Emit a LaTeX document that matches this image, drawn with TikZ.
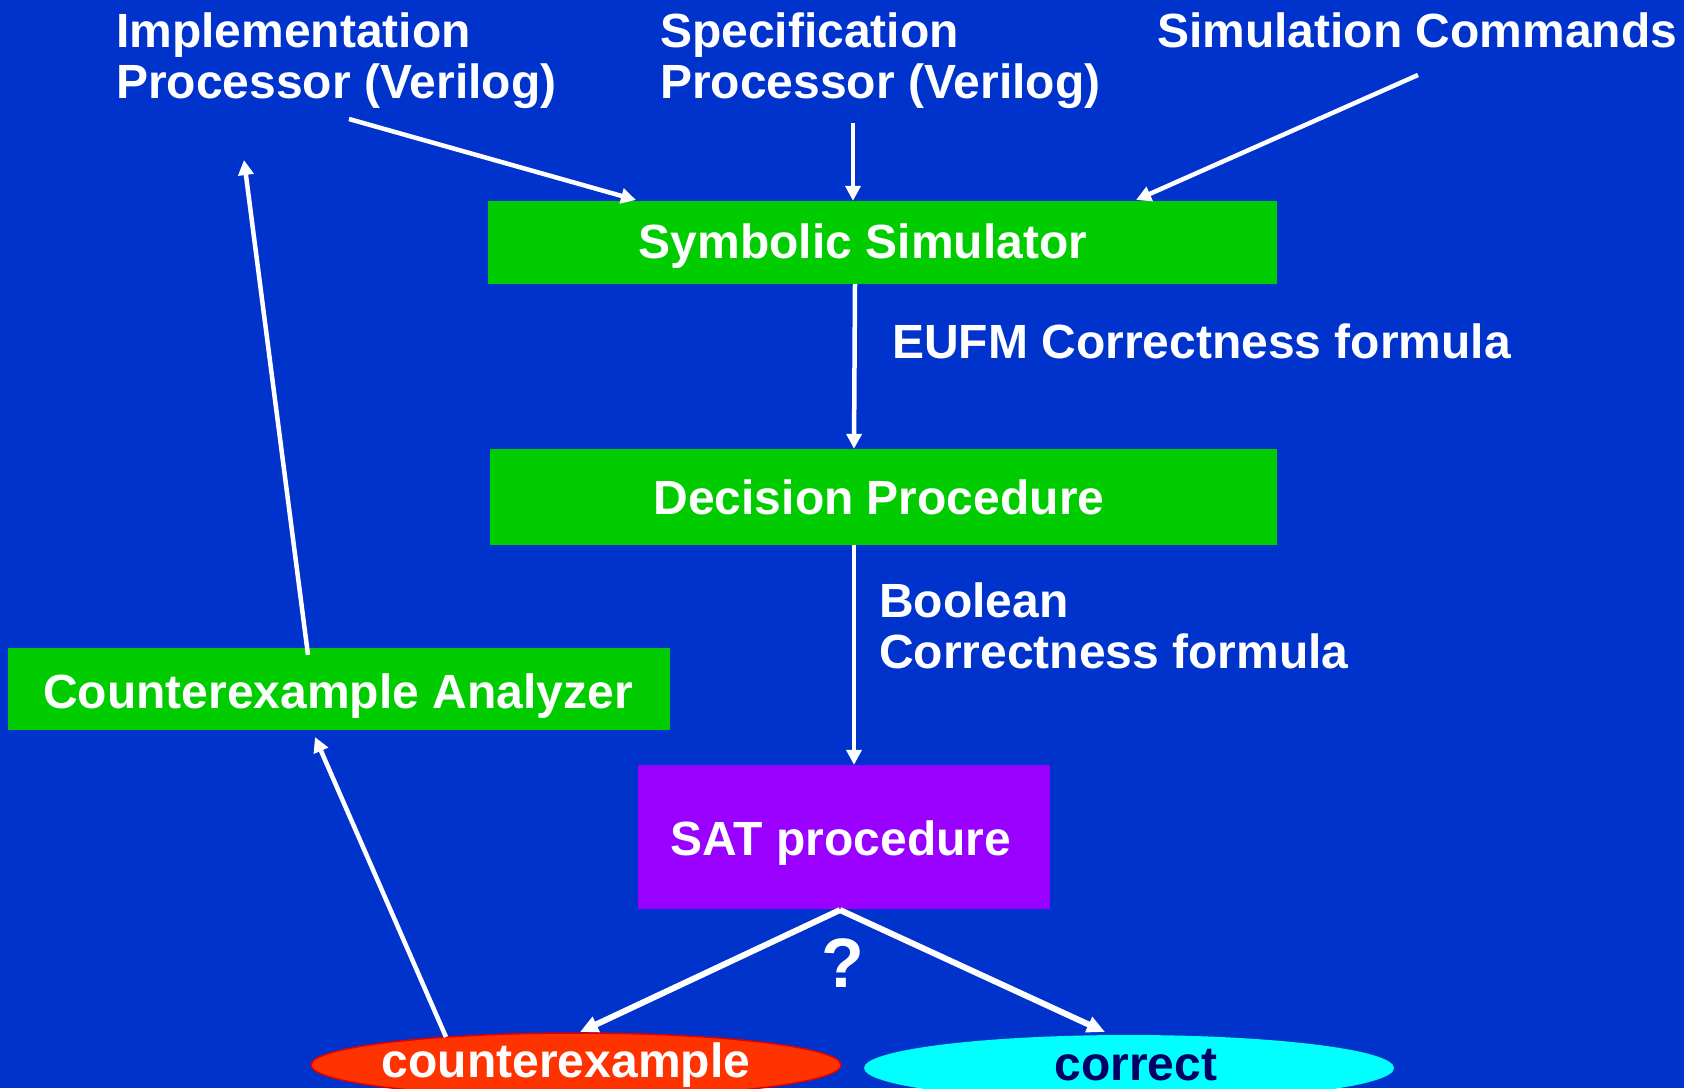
\documentclass[tikz,border=0pt]{standalone}
\usepackage{fontspec}
\setmainfont{Liberation Sans}
\usetikzlibrary{arrows.meta,shapes.geometric}
\definecolor{bg}{HTML}{0033CC}
\definecolor{boxgreen}{HTML}{00CC00}
\definecolor{satpurple}{HTML}{9900FF}
\definecolor{cered}{HTML}{FF3300}
\definecolor{ceborder}{HTML}{E00000}
\definecolor{corrcyan}{HTML}{00FFFF}
\definecolor{navytext}{HTML}{000066}
\begin{document}
\begin{tikzpicture}[x=1pt,y=-1pt,
  bigfont/.style={font=\fontsize{48}{52}\selectfont\bfseries},
  lbl/.style={bigfont,text=white,inner sep=0pt,anchor=base west},
  boxlbl/.style={bigfont,text=white,inner sep=0pt,anchor=base},
  greenbox/.style={fill=boxgreen,draw=none,inner sep=0pt},
  arr/.style={draw=white,line width=4.5pt,-{Triangle[width=15pt,length=15pt]}},
  fork/.style={draw=white,line width=6pt,-{Triangle[width=16pt,length=18pt]}},
]
\fill[bg] (0,0) rectangle (1684,1088);
\useasboundingbox (0,0) rectangle (1684,1088);

% top texts
\node[lbl] (impl1) at (116,47) {Implementation};
\node[lbl] (impl2) at (116,98) {Processor (Verilog)};
\node[lbl] (spec1) at (660,47) {Specification};
\node[lbl] (spec2) at (660,98) {Processor (Verilog)};
\node[lbl] (cmds) at (1157,47) {Simulation Commands};

% boxes
\node[greenbox,minimum width=789pt,minimum height=83pt] (sim) at (882.5,242.5) {};
\node[boxlbl] (simt) at (863,258) {Symbolic Simulator};
\node[greenbox,minimum width=787pt,minimum height=96pt] (dec) at (883.5,497) {};
\node[boxlbl] (dect) at (879,514) {Decision Procedure};
\node[greenbox,minimum width=662pt,minimum height=82pt] (ana) at (339,689) {};
\node[boxlbl] (anat) at (338,708) {Counterexample Analyzer};
\node[fill=satpurple,inner sep=0pt,minimum width=412pt,minimum height=144pt] (sat) at (844,837) {};
\node[boxlbl] (satt) at (841,855) {SAT procedure};

% side labels
\node[lbl] (eufm) at (892,358) {EUFM Correctness formula};
\node[lbl] (bool1) at (879,617) {Boolean};
\node[lbl] (bool2) at (879,668) {Correctness formula};

% ellipses
\node[ellipse,fill=cered,draw=ceborder,line width=1.5pt,minimum width=530pt,minimum height=64pt,inner sep=0pt] (ce) at (576,1065) {};
\node[boxlbl] (cet) at (566,1077) {counterexample};
\node[ellipse,fill=corrcyan,draw=none,minimum width=530pt,minimum height=66pt,inner sep=0pt] (corr) at (1129,1068) {};
\node[bigfont,text=navytext,inner sep=0pt,anchor=base] (corrt) at (1136,1080) {correct};
\node[font=\fontsize{70}{74}\selectfont\bfseries,text=white,inner sep=0pt,anchor=base] (q) at (843,987) {?};

% free ends of connectors
\coordinate (a1s) at (349,119);
\coordinate (a1e) at (636,200);
\coordinate (a2s) at (853,123);
\coordinate (a3s) at (1418,75);
\coordinate (a3e) at (1136,200);
\coordinate (a6e) at (244,160);
\coordinate (apex) at (840,910);
\coordinate (fl) at (580,1032);
\coordinate (fr) at (1105,1032);
\coordinate (a7s) at (446,1037);
\coordinate (a7e) at (315,737);

\draw[arr] (a1s) -- (a1e);
\draw[arr] (a2s) -- (a2s |- sim.north);
\draw[arr] (a3s) -- (a3e);
\draw[arr] ([xshift=-27.5pt]sim.south) -- ([xshift=-29.5pt]dec.north);
\draw[arr] ([xshift=-29.5pt]dec.south) -- ([xshift=10pt]sat.north);
\draw[arr] ([xshift=-31pt,yshift=-7pt]ana.north) -- (a6e);
\draw[arr] (a7s) -- (a7e);
\draw[fork] (apex) -- (fl);
\draw[fork] (apex) -- (fr);
\end{tikzpicture}
\end{document}
